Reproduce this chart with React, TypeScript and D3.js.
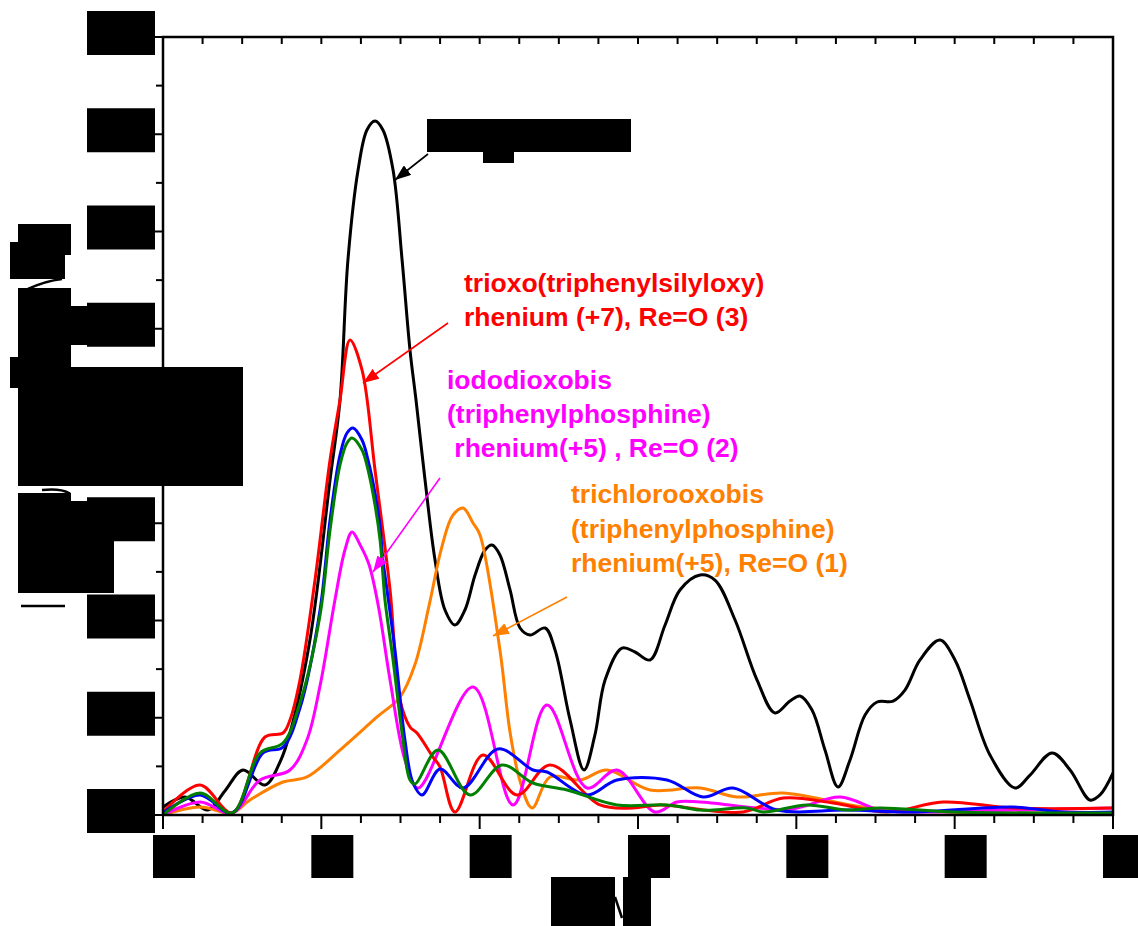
import React from 'react';
import * as d3 from 'd3';

const W = 1138;
const H = 926;

const xTicks = [0, 1, 2, 3, 4, 5, 6];
const xTickLabels = ['0', '1', '2', '3', '4', '5', '6'];
const yTicks = [0, 1, 2, 3, 4, 5, 6, 7, 8];
const yTickLabels = ['0', '1', '2', '3', '4', '5', '6', '7', '8'];
const xTitle = 'R (Å)';
const yTitle = '|χ(R)| (Å⁻³)';

type Pt = [number, number];

const reFoil: Pt[] = [
  [0, 0.082], [0.139, 0.185], [0.284, 0.051], [0.392, 0.25], [0.505, 0.463], [0.644, 0.308],
  [0.739, 0.545], [0.802, 0.843], [0.928, 1.8], [1.055, 3.445], [1.118, 4.267], [1.168, 5.707],
  [1.232, 6.632], [1.288, 7.044], [1.339, 7.136], [1.389, 7.044], [1.453, 6.632], [1.51, 5.707],
  [1.56, 4.781], [1.598, 4.267], [1.655, 3.445], [1.718, 2.622], [1.781, 2.108], [1.844, 1.954],
  [1.907, 2.108], [1.971, 2.468], [2.034, 2.725], [2.078, 2.776], [2.128, 2.674], [2.192, 2.314],
  [2.255, 1.923], [2.318, 1.851], [2.413, 1.923], [2.476, 1.697], [2.571, 0.977], [2.659, 0.463],
  [2.728, 0.823], [2.792, 1.388], [2.899, 1.717], [2.981, 1.676], [3.076, 1.594], [3.171, 1.954],
  [3.265, 2.314], [3.392, 2.468], [3.486, 2.416], [3.613, 2.005], [3.752, 1.388], [3.865, 1.049],
  [3.96, 1.172], [4.023, 1.224], [4.099, 1.08], [4.181, 0.668], [4.263, 0.288], [4.339, 0.566],
  [4.434, 1.028], [4.51, 1.162], [4.611, 1.172], [4.686, 1.285], [4.781, 1.594], [4.907, 1.799],
  [5.002, 1.594], [5.097, 1.183], [5.223, 0.617], [5.381, 0.278], [5.476, 0.411], [5.615, 0.638],
  [5.729, 0.463], [5.855, 0.154], [5.918, 0.206], [6.0, 0.432],
];

const reO3: Pt[] = [
  [0, 0.031], [0.234, 0.308], [0.436, 0.021], [0.644, 0.802], [0.758, 0.843], [0.802, 0.977],
  [0.865, 1.388], [0.96, 2.416], [1.055, 3.65], [1.118, 4.267], [1.181, 4.884], [1.257, 4.576],
  [1.339, 3.548], [1.434, 2.314], [1.497, 1.183], [1.56, 0.905], [1.604, 0.843], [1.705, 0.596],
  [1.75, 0.494], [1.844, 0.031], [2.021, 0.617], [2.236, 0.206], [2.444, 0.514], [2.76, 0.103],
  [2.968, 0.072], [3.139, 0.103], [3.663, 0.031], [3.916, 0.175], [4.232, 0.123], [4.573, 0.031],
  [4.926, 0.134], [5.369, 0.072], [6.0, 0.072],
];

const reO2: Pt[] = [
  [0, 0.0], [0.234, 0.134], [0.436, 0.021], [0.613, 0.36], [0.802, 0.463], [0.909, 0.771],
  [0.992, 1.33], [1.086, 2.211], [1.149, 2.725], [1.194, 2.91], [1.244, 2.78], [1.3, 2.58],
  [1.36, 2.15], [1.434, 1.388], [1.528, 0.566], [1.611, 0.278], [1.958, 1.316], [2.211, 0.103],
  [2.425, 1.131], [2.678, 0.278], [2.867, 0.463], [3.107, 0.031], [3.246, 0.134], [3.392, 0.134],
  [3.96, 0.06], [4.276, 0.185], [4.529, 0.051], [4.737, 0.031], [5.369, 0.051], [6.0, 0.072],
];

const reO1: Pt[] = [
  [0, 0.0], [0.234, 0.082], [0.436, 0.021], [0.549, 0.154], [0.758, 0.339], [0.909, 0.391],
  [1.118, 0.668], [1.352, 1.008], [1.497, 1.213], [1.592, 1.55], [1.68, 2.15], [1.76, 2.75],
  [1.83, 3.08], [1.895, 3.157], [1.958, 3.003], [2.002, 2.879], [2.128, 1.697], [2.192, 0.85],
  [2.255, 0.35], [2.331, 0.072], [2.444, 0.391], [2.634, 0.36], [2.804, 0.463], [3.076, 0.257],
  [3.392, 0.278], [3.625, 0.185], [3.916, 0.226], [4.421, 0.082], [4.952, 0.031], [6.0, 0.021],
];

const blueSeries: Pt[] = [
  [0, 0.021], [0.234, 0.206], [0.436, 0.021], [0.632, 0.638], [0.758, 0.699], [0.865, 1.1],
  [0.992, 2.108], [1.055, 3.034], [1.118, 3.702], [1.162, 3.928], [1.2, 3.979], [1.257, 3.856],
  [1.295, 3.65], [1.339, 3.311], [1.371, 2.961], [1.389, 2.622], [1.415, 2.314], [1.465, 1.697],
  [1.528, 0.771], [1.579, 0.329], [1.636, 0.206], [1.75, 0.473], [1.895, 0.278], [2.116, 0.679],
  [2.337, 0.463], [2.425, 0.442], [2.678, 0.206], [2.867, 0.36], [3.183, 0.36], [3.411, 0.185],
  [3.6, 0.278], [3.878, 0.051], [4.32, 0.051], [4.737, 0.031], [5.369, 0.082], [5.684, 0.031],
  [6.0, 0.031],
];

const greenSeries: Pt[] = [
  [0, 0.0], [0.234, 0.226], [0.436, 0.021], [0.613, 0.638], [0.758, 0.74], [0.865, 1.152],
  [0.992, 2.057], [1.055, 2.93], [1.118, 3.599], [1.162, 3.825], [1.194, 3.877], [1.257, 3.753],
  [1.295, 3.548], [1.339, 3.188], [1.371, 2.828], [1.389, 2.468], [1.402, 2.211], [1.453, 1.594],
  [1.516, 0.771], [1.56, 0.36], [1.592, 0.319], [1.737, 0.668], [1.939, 0.206], [2.141, 0.514],
  [2.337, 0.329], [2.552, 0.257], [2.867, 0.103], [3.183, 0.103], [3.392, 0.051], [3.474, 0.051],
  [3.688, 0.072], [3.79, 0.031], [4.067, 0.103], [4.32, 0.051], [4.529, 0.072], [5.0, 0.031],
  [6.0, 0.021],
];

const seriesData = [reFoil, reO1, reO2, reO3, blueSeries, greenSeries];
const seriesColors = ['#000000', '#ff8000', '#ff00ff', '#ff0000', '#0000ff', '#008000'];

const redLabel = ['trioxo(triphenylsilyloxy)', 'rhenium (+7), Re=O (3)'];
const magentaLabel = ['iododioxobis', '(triphenylphosphine)', ' rhenium(+5) , Re=O (2)'];
const orangeLabel = ['trichlorooxobis', '(triphenylphosphine)', 'rhenium(+5), Re=O (1)'];
const blackLabel = 'Re foil';

export default function App() {
  const left = 163, right = 1113, top = 37, bottom = 815;
  const x = d3.scaleLinear().domain([0, 6]).range([left, right]);
  const y = d3.scaleLinear().domain([0, 8]).range([bottom, top]);
  const line = d3
    .line<Pt>()
    .x((d) => x(d[0]))
    .y((d) => y(d[1]))
    .curve(d3.curveCatmullRom.alpha(0.5));
  const xMinor = d3.range(0, 6.0001, 0.25);
  const yMinor = d3.range(0, 8.0001, 0.5);
  const font = "'Liberation Sans', Arial, sans-serif";

  const arrows = [
    { x1: 428, y1: 154, x2: 395, y2: 180, c: '#000000', id: 'ak' },
    { x1: 448, y1: 323, x2: 363, y2: 383, c: '#ff0000', id: 'ar' },
    { x1: 440, y1: 478, x2: 373, y2: 572, c: '#ff00ff', id: 'am' },
    { x1: 567, y1: 597, x2: 493, y2: 636, c: '#ff8000', id: 'ao' },
  ];

  const xTitleBoxes = [
    { x: 551, y: 877, w: 64, h: 49 },
    { x: 623, y: 877, w: 28, h: 49 },
  ];
  const yTitleBoxes = [
    { x: 18, y: 224, w: 53, h: 31 },
    { x: 10, y: 242, w: 55, h: 37 },
    { x: 18, y: 288, w: 53, h: 79 },
    { x: 71, y: 306, w: 16, h: 39 },
    { x: 10, y: 357, w: 61, h: 31 },
    { x: 18, y: 367, w: 225, h: 119 },
    { x: 18, y: 493, w: 53, h: 10 },
    { x: 18, y: 501, w: 96, h: 92 },
  ];

  return (
    <svg width={W} height={H} style={{ position: 'absolute', left: 0, top: 0, background: '#fff' }}>
      <defs>
        <clipPath id="plotclip">
          <rect x={left} y={top} width={right - left} height={bottom - top + 1} />
        </clipPath>
        <clipPath id="xtclip">
          {xTitleBoxes.map((b, i) => <rect key={i} x={b.x} y={b.y} width={b.w} height={b.h} />)}
        </clipPath>
        <clipPath id="ytclip">
          {yTitleBoxes.map((b, i) => <rect key={i} x={b.x} y={b.y} width={b.w} height={b.h} />)}
        </clipPath>
        {arrows.map((a) => (
          <marker key={a.id} id={a.id} viewBox="0 0 16 12" refX="16" refY="6" markerWidth="16" markerHeight="12"
            markerUnits="userSpaceOnUse" orient="auto">
            <path d="M0,0 L16,6 L0,12 z" fill={a.c} />
          </marker>
        ))}
      </defs>
      <rect x={0} y={0} width={W} height={H} fill="#fff" />

      {/* series */}
      <g clipPath="url(#plotclip)">
        {seriesData.map((d, i) => (
          <path key={i} d={line(d) || ''} fill="none" stroke={seriesColors[i]} strokeWidth={3} strokeLinejoin="round" />
        ))}
      </g>

      {/* frame */}
      <rect x={left} y={top} width={right - left} height={bottom - top} fill="none" stroke="#000" strokeWidth={2.5} />

      {/* bottom ticks */}
      {xMinor.map((v, i) => {
        const major = Math.abs(v - Math.round(v)) < 1e-6;
        return <line key={'bx' + i} x1={x(v)} x2={x(v)} y1={bottom} y2={bottom + (major ? 14 : 8)} stroke="#000" strokeWidth={2} />;
      })}
      {/* top ticks */}
      {xMinor.map((v, i) => (
        <line key={'tx' + i} x1={x(v)} x2={x(v)} y1={top} y2={top + 7} stroke="#000" strokeWidth={2} />
      ))}
      {/* left ticks */}
      {yMinor.map((v, i) => {
        const major = Math.abs(v - Math.round(v)) < 1e-6;
        return <line key={'ly' + i} x1={left} x2={left - (major ? 12 : 7)} y1={y(v)} y2={y(v)} stroke="#000" strokeWidth={2} />;
      })}

      {/* x tick labels (redacted boxes) */}
      {xTicks.map((v, i) => (
        <g key={'xl' + i}>
          <rect x={x(v) - 10} y={835} width={42} height={43} fill="#000" />
          <text x={x(v) + 11} y={866} textAnchor="middle" fontFamily={font} fontWeight="bold" fontSize={26} fill="#000">
            {xTickLabels[i]}
          </text>
        </g>
      ))}
      {/* y tick labels (redacted boxes) */}
      {yTicks.map((v, i) => (
        <g key={'yl' + i}>
          <rect x={87} y={y(v) - 26} width={68} height={44} fill="#000" />
          <text x={121} y={y(v) + 5} textAnchor="middle" fontFamily={font} fontWeight="bold" fontSize={26} fill="#000">
            {yTickLabels[i]}
          </text>
        </g>
      ))}

      {/* x title (redacted) */}
      {xTitleBoxes.map((b, i) => <rect key={'xtb' + i} x={b.x} y={b.y} width={b.w} height={b.h} fill="#000" />)}
      <text x={602} y={915} textAnchor="middle" fontFamily={font} fontWeight="bold" fontSize={40} fill="#000" clipPath="url(#xtclip)">{xTitle}</text>
      <line x1={615} y1={897} x2={622} y2={918} stroke="#000" strokeWidth={2.5} />

      {/* y title (redacted) */}
      {yTitleBoxes.map((b, i) => <rect key={'ytb' + i} x={b.x} y={b.y} width={b.w} height={b.h} fill="#000" />)}
      <text transform="translate(55,420) rotate(-90)" textAnchor="middle" fontFamily={font} fontWeight="bold" fontSize={40} fill="#000" clipPath="url(#ytclip)">{yTitle}</text>
      <path d="M28,289 Q45,281 62,279" fill="none" stroke="#000" strokeWidth={2.5} />
      <path d="M42,490 Q60,488 69,493 L68,497" fill="none" stroke="#000" strokeWidth={2.5} />
      <line x1={21} x2={65} y1={606} y2={606} stroke="#000" strokeWidth={2.5} />

      {/* arrows */}
      {arrows.map((a) => (
        <line key={'l' + a.id} x1={a.x1} y1={a.y1} x2={a.x2} y2={a.y2} stroke={a.c} strokeWidth={1.6} markerEnd={`url(#${a.id})`} />
      ))}

      {/* black annotation (redacted) */}
      <rect x={427} y={119} width={204} height={33} fill="#000" />
      <rect x={483} y={151} width={31} height={12} fill="#000" />
      <text x={529} y={145} textAnchor="middle" fontFamily={font} fontWeight="bold" fontSize={26} fill="#000">{blackLabel}</text>

      {/* colored annotations */}
      <g fontFamily={font} fontWeight="bold" fontSize={26.5}>
        {redLabel.map((t, i) => (
          <text key={'r' + i} x={464} y={292 + i * 34} fill="#ff0000" style={{ whiteSpace: 'pre' }}>{t}</text>
        ))}
        {magentaLabel.map((t, i) => (
          <text key={'m' + i} x={447} y={389 + i * 34} fill="#ff00ff" style={{ whiteSpace: 'pre' }}>{t}</text>
        ))}
        {orangeLabel.map((t, i) => (
          <text key={'o' + i} x={571} y={503 + i * 34.5} fill="#ff8000" style={{ whiteSpace: 'pre' }}>{t}</text>
        ))}
      </g>
    </svg>
  );
}
